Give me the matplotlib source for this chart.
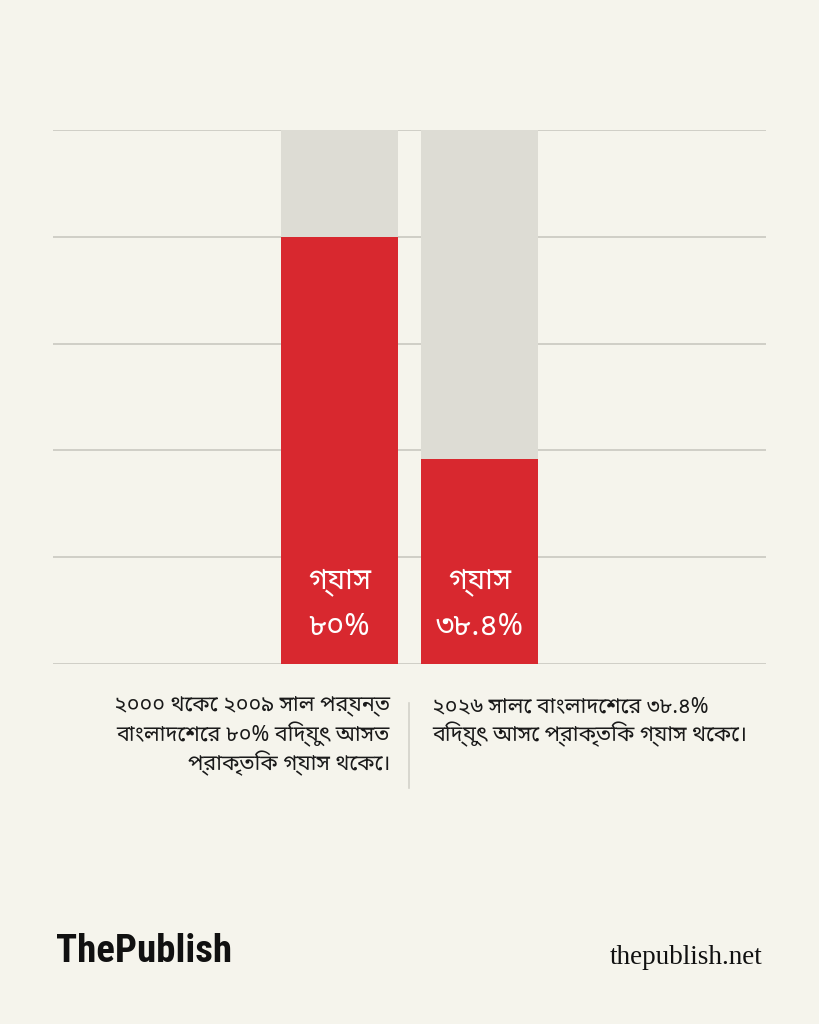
import matplotlib
matplotlib.use('Agg')
import matplotlib.pyplot as plt
from matplotlib.lines import Line2D

# data
categories = ['২০০০-২০০৯', '২০২৬']
gas_share = [80, 38.4]
bar_labels = ['৮০%', '৩৮.৪%']
bar_title = 'গ্যাস'
captions = [
    '২০০০ থেকে ২০০৯ সাল পর্যন্ত\nবাংলাদেশের ৮০% বিদ্যুৎ আসত\nপ্রাকৃতিক গ্যাস থেকে।',
    '২০২৬ সালে বাংলাদেশের ৩৮.৪%\nবিদ্যুৎ আসে প্রাকৃতিক গ্যাস থেকে।',
]
yticks = [0, 20, 40, 60, 80, 100]

BG = '#f5f4ec'
RED = '#d8282f'
GREY = '#dddcd4'
GRID = '#c9c8c0'
BN = ['Noto Sans Bengali', 'DejaVu Sans']

W, H = 819, 1024
fig = plt.figure(figsize=(W / 100, H / 100), dpi=100, facecolor=BG)
ax = fig.add_axes([53 / W, 1 - 664 / H, (766 - 53) / W, (664 - 130) / H])
ax.set_facecolor(BG)

x = list(range(len(categories)))
width = 117 / 140
ax.bar(x, [100] * len(x), width=width, color=GREY, zorder=2)
ax.bar(x, gas_share, width=width, color=RED, zorder=3)
for yy in yticks:
    ax.axhline(yy, color=GRID, lw=1.2, zorder=1)

for xi, lab in zip(x, bar_labels):
    ax.text(xi, 15.4, bar_title, color='white', fontsize=21, family=BN,
            ha='center', va='center', zorder=4)
    ax.text(xi, 6.9, lab, color='white', fontsize=22, family=BN,
            ha='center', va='center', zorder=4)

ax.set_xlim(-(339.5 - 53) / 140, 1 + (766 - 479.5) / 140)
ax.set_ylim(0, 100)
ax.axis('off')

# captions under the bars
for i, (xp, ha) in enumerate([(390, 'right'), (432, 'left')]):
    fig.text(xp / W, 1 - 696 / H, captions[i], ha=ha, va='top',
             multialignment=ha, fontsize=15.5, family=BN, linespacing=1.22,
             color='#1a1a1a')
fig.add_artist(Line2D([409 / W, 409 / W], [1 - 703 / H, 1 - 788 / H],
                      color='#d3d2ca', lw=1.2))

# footer
fig.text(56 / W, 1 - 952 / H, 'ThePublish', fontsize=28, fontweight='bold',
         family=['Roboto Condensed', 'DejaVu Sans'], ha='left', va='center',
         color='#111111')
fig.text(762 / W, 1 - 957 / H, 'thepublish.net', fontsize=19.5,
         family=['Liberation Serif', 'DejaVu Serif'], ha='right', va='center',
         color='#111111')

fig.savefig('out.png', dpi=100, facecolor=BG)
